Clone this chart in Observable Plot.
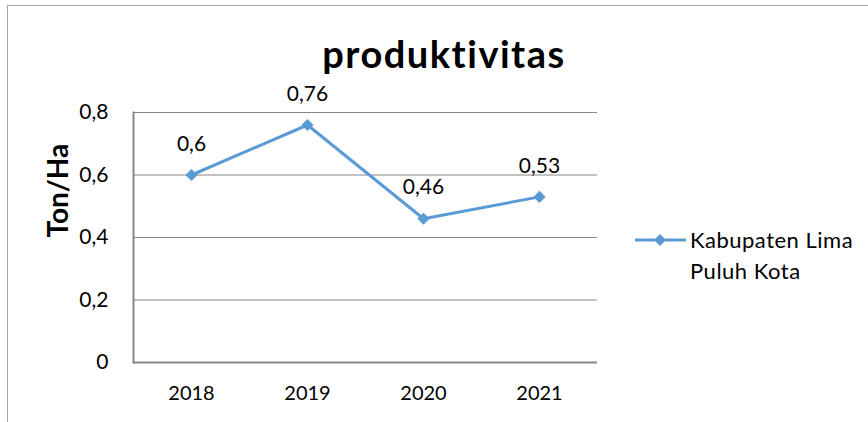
<!DOCTYPE html>
<html>
<head>
<meta charset="utf-8">
<script src="https://cdn.jsdelivr.net/npm/d3@7"></script>
<script src="https://cdn.jsdelivr.net/npm/@observablehq/plot@0.6"></script>
<style>
  html, body { margin: 0; padding: 0; background: #fff; }
  #wrap { position: relative; width: 868px; height: 422px; overflow: hidden; font-family: Lato, "Open Sans", sans-serif; }
  #frame { position: absolute; left: 7px; top: 5px; width: 900px; height: 500px; border-left: 1px solid #a6a6a6; border-top: 1px solid #a6a6a6; }
  #title { position: absolute; left: 0; width: 888px; top: 30px; text-align: center; font-weight: bold; font-size: 38px; letter-spacing: 1.5px; color: #000; }
  #legend { position: absolute; left: 634px; top: 224px; font-size: 22px; letter-spacing: 0.5px; line-height: 31px; color: #000; }
  #legend svg { position: absolute; left: 0; top: 6px; }
  #legend .txt { margin-left: 56px; }
  #chart { position: absolute; left: 0; top: 0; }
</style>
</head>
<body>
<div id="wrap">
  <div id="frame"></div>
  <div id="chart"></div>
  <div id="title">produktivitas</div>
  <div id="legend"></div>
</div>
<script>
const years = ["2018", "2019", "2020", "2021"];
const values = [0.6, 0.76, 0.46, 0.53];
const yTicks = [0, 0.2, 0.4, 0.6, 0.8];
const seriesName = ["Kabupaten Lima", "Puluh Kota"];
const lineColor = "#5B9BD5";

const data = years.map((y, i) => ({year: y, value: values[i]}));
const comma = v => String(v).replace(".", ",");

const chart = Plot.plot({
  width: 868,
  height: 422,
  marginLeft: 133,
  marginRight: 271,
  marginTop: 112,
  marginBottom: 60,
  style: {fontFamily: "Lato, 'Open Sans', sans-serif", fontSize: "20px", background: "transparent", color: "#000"},
  x: {type: "band", domain: years, padding: 0, label: null},
  y: {domain: [0, 0.8], label: null},
  marks: [
    Plot.ruleY(yTicks.filter(d => d > 0), {stroke: "#868686", strokeWidth: 1, strokeOpacity: 1}),
    Plot.frame({anchor: "left", stroke: "#868686", strokeWidth: 2}),
    Plot.axisY({ticks: yTicks, tickFormat: comma, tickSize: 0, tickPadding: 25, fontSize: 21, label: null}),
    Plot.axisX({tickSize: 0, tickPadding: 23, fontSize: 20, label: null}),
    Plot.ruleY([0], {stroke: "#868686", strokeWidth: 2}),
    Plot.line(data, {x: "year", y: "value", stroke: lineColor, strokeWidth: 3}),
    Plot.dot(data, {x: "year", y: "value", symbol: "diamond2", r: 5.5, fill: lineColor, stroke: "none"}),
    Plot.text(data, {x: "year", y: "value", text: d => comma(d.value), dy: -31, fontSize: 21, fill: "#000"}),
    Plot.text(["Ton/Ha"], {frameAnchor: "left", dx: -74, rotate: -90, fontWeight: "bold", fontSize: 28, fill: "#000"})
  ]
});
document.getElementById("chart").appendChild(chart);

const leg = document.getElementById("legend");
leg.innerHTML = `<svg width="54" height="24"><line x1="1" x2="52" y1="10" y2="10" stroke="${lineColor}" stroke-width="3"/><path d="M26,4 L32,10 L26,16 L20,10 Z" fill="${lineColor}"/></svg>` +
  seriesName.map(s => `<div class="txt">${s}</div>`).join("");
</script>
</body>
</html>
